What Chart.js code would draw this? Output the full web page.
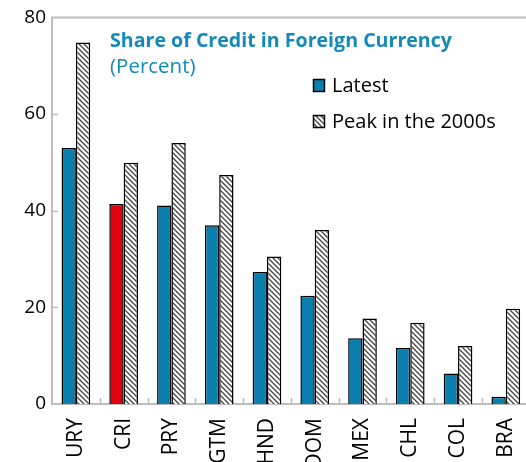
<!DOCTYPE html>
<html>
<head>
<meta charset="utf-8">
<script src="https://cdn.jsdelivr.net/npm/chart.js@4.4.1/dist/chart.umd.min.js"></script>
<style>
  html, body { margin: 0; padding: 0; overflow: hidden; background: #fff; width: 526px; height: 462px; }
  canvas { display: block; }
</style>
</head>
<body>
<canvas id="grafico" width="545" height="480"></canvas>
<script>
// Dati (percentuali)
const paesi = ['URY', 'CRI', 'PRY', 'GTM', 'HND', 'DOM', 'MEX', 'CHL', 'COL', 'BRA'];
const ultimo = [53, 41.4, 41.1, 37, 27.3, 22.4, 13.6, 11.6, 6.3, 1.5];
const piccoAnni2000 = [74.8, 49.9, 54, 47.4, 30.5, 36, 17.7, 16.8, 12, 19.7];
const tickY = [0, 20, 40, 60, 80];

const titolo = 'Share of Credit in Foreign Currency';
const sottotitolo = '(Percent)';
const etichetteLegenda = ['Latest', 'Peak in the 2000s'];

const BLU = '#0a7fae';
const ROSSO = '#e2000f';
const GRIGIO = '#bdbdbd';
const TITOLO_COL = '#1589b8';
const FONT = '"Open Sans", "Noto Sans", sans-serif';

// Motivo a righe diagonali per la serie "picco"
function creaTratteggio() {
    const c = document.createElement('canvas');
    c.width = 5;
    c.height = 5;
    const g = c.getContext('2d');
    g.fillStyle = '#fff';
    g.fillRect(0, 0, 5, 5);
    g.strokeStyle = '#444';
    g.lineWidth = 1.3;
    g.beginPath();
    for (let k = -5; k <= 5; k += 5) {
        g.moveTo(k - 1, -1);
        g.lineTo(k + 6, 6);
    }
    g.stroke();
    return g.createPattern(c, 'repeat');
}

const ctx = document.getElementById('grafico').getContext('2d');
const tratteggio = creaTratteggio();

// Cornice, tacche interne, titolo e legenda
const decorazioni = {
    id: 'decorazioni',
    beforeDatasetsDraw(chart) {
        const { ctx, chartArea: a, scales } = chart;
        ctx.save();
        ctx.strokeStyle = GRIGIO;
        ctx.lineWidth = 2;
        ctx.beginPath();
        ctx.moveTo(a.left, a.bottom);
        ctx.lineTo(a.left, a.top);
        ctx.lineTo(a.right, a.top);
        ctx.stroke();
        // tacche asse y verso l'interno
        ctx.lineWidth = 1.5;
        ctx.beginPath();
        tickY.slice(1, -1).forEach(v => {
            const y = Math.round(scales.y.getPixelForValue(v)) + 0.5;
            ctx.moveTo(a.left, y);
            ctx.lineTo(a.left + 6, y);
        });
        // tacche asse x tra le categorie
        for (let i = 1; i < paesi.length; i++) {
            const x = Math.round((scales.x.getPixelForTick(i - 1) + scales.x.getPixelForTick(i)) / 2) + 0.5;
            ctx.moveTo(x, a.bottom);
            ctx.lineTo(x, a.bottom - 6);
        }
        ctx.stroke();
        ctx.restore();
    },
    afterDraw(chart) {
        const { ctx } = chart;
        ctx.save();
        ctx.fillStyle = TITOLO_COL;
        ctx.textBaseline = 'alphabetic';
        ctx.font = 'bold 19.6px ' + FONT;
        ctx.fillText(titolo, 110, 47);
        ctx.font = '20.5px ' + FONT;
        ctx.fillText(sottotitolo, 110, 73);

        // legenda
        const riempimenti = [BLU, tratteggio];
        const yy = [85, 121];
        ctx.font = '20px ' + FONT;
        etichetteLegenda.forEach((t, i) => {
            ctx.fillStyle = riempimenti[i];
            ctx.fillRect(313, yy[i] - 6, 12, 13);
            ctx.strokeStyle = '#000';
            ctx.lineWidth = 1.5;
            ctx.strokeRect(313.5, yy[i] - 5.5, 11, 12);
            ctx.fillStyle = '#000';
            ctx.textBaseline = 'middle';
            ctx.fillText(t, 332, yy[i] + 1);
        });
        ctx.restore();
    }
};

new Chart(ctx, {
    type: 'bar',
    data: {
        labels: paesi,
        datasets: [
            {
                label: etichetteLegenda[0],
                data: ultimo,
                backgroundColor: paesi.map(p => p === 'CRI' ? ROSSO : BLU),
                borderColor: '#000',
                borderWidth: 1.5,
                categoryPercentage: 0.6,
                barPercentage: 1.0
            },
            {
                label: etichetteLegenda[1],
                data: piccoAnni2000,
                backgroundColor: tratteggio,
                borderColor: '#000',
                borderWidth: 1.5,
                categoryPercentage: 0.6,
                barPercentage: 1.0
            }
        ]
    },
    options: {
        responsive: false,
        animation: false,
        devicePixelRatio: 1,
        layout: { padding: { top: 17, right: 0, left: 0, bottom: 0 } },
        plugins: {
            legend: { display: false },
            tooltip: { enabled: false }
        },
        scales: {
            x: {
                grid: { display: false, drawTicks: false },
                border: { display: true, color: GRIGIO, width: 2 },
                ticks: {
                    maxRotation: 90,
                    minRotation: 90,
                    padding: 14,
                    color: '#000',
                    font: { family: FONT, size: 21 }
                },
                afterFit(scale) { scale.height = 76; }
            },
            y: {
                min: 0,
                max: 80,
                grid: { display: false, drawTicks: false },
                border: { display: false },
                ticks: {
                    stepSize: 20,
                    padding: 6,
                    color: '#000',
                    font: { family: FONT, size: 19 }
                },
                afterFit(scale) { scale.width = 52; }
            }
        }
    },
    plugins: [decorazioni]
});
</script>
</body>
</html>
